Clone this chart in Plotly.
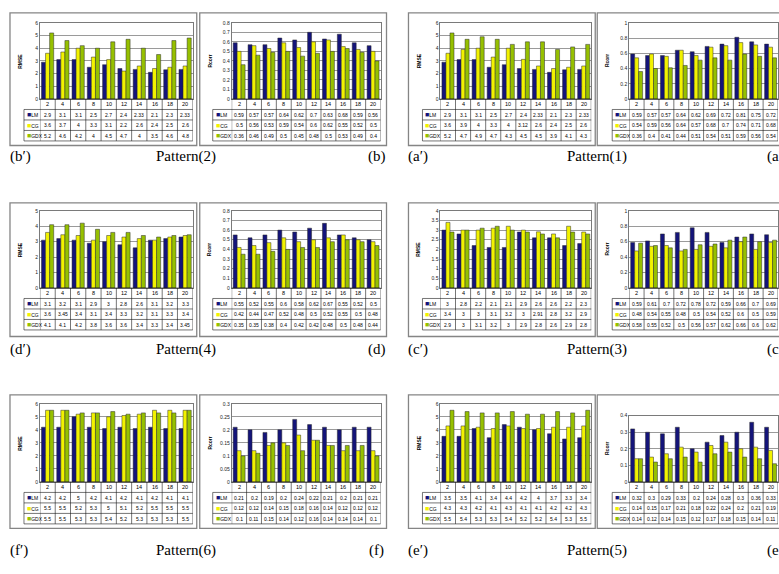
import plotly.graph_objects as go

W, H = 779, 574

categories = [2, 4, 6, 8, 10, 12, 14, 16, 18, 20]
series_names = ["LM", "CG", "GDX"]
series_colors = ["#14147a", "#f2f200", "#96c000"]

# Pattern(1)
p1_rmse_lm = [2.9, 3.1, 3.1, 2.5, 2.7, 2.4, 2.33, 2.1, 2.3, 2.33]
p1_rmse_cg = [3.6, 3.9, 4, 3.3, 4, 3.12, 2.6, 2.4, 2.5, 2.6]
p1_rmse_gdx = [5.2, 4.7, 4.9, 4.7, 4.3, 4.5, 4.5, 3.9, 4.1, 4.3]
p1_rcorr_lm = [0.59, 0.57, 0.57, 0.64, 0.62, 0.69, 0.72, 0.81, 0.75, 0.72]
p1_rcorr_cg = [0.54, 0.59, 0.56, 0.64, 0.57, 0.68, 0.7, 0.74, 0.71, 0.68]
p1_rcorr_gdx = [0.36, 0.4, 0.41, 0.44, 0.51, 0.54, 0.51, 0.59, 0.56, 0.54]

# Pattern(2)
p2_rmse_lm = [2.9, 3.1, 3.1, 2.5, 2.7, 2.4, 2.33, 2.1, 2.3, 2.33]
p2_rmse_cg = [3.6, 3.7, 4, 3.3, 3.1, 2.2, 2.6, 2.4, 2.5, 2.6]
p2_rmse_gdx = [5.2, 4.6, 4.2, 4, 4.5, 4.7, 4, 3.5, 4.6, 4.8]
p2_rcorr_lm = [0.59, 0.57, 0.57, 0.64, 0.62, 0.7, 0.63, 0.68, 0.59, 0.56]
p2_rcorr_cg = [0.5, 0.56, 0.53, 0.59, 0.54, 0.6, 0.62, 0.55, 0.52, 0.5]
p2_rcorr_gdx = [0.36, 0.46, 0.49, 0.5, 0.45, 0.48, 0.5, 0.53, 0.49, 0.4]

# Pattern(3)
p3_rmse_lm = [3, 2.8, 2.2, 2.1, 2.1, 2.9, 2.6, 2.6, 2.2, 2.3]
p3_rmse_cg = [3.4, 3, 3, 3.1, 3.2, 3, 2.91, 2.8, 3.2, 2.9]
p3_rmse_gdx = [2.9, 3, 3.1, 3.2, 3, 2.9, 2.8, 2.6, 2.9, 2.8]
p3_rcorr_lm = [0.59, 0.61, 0.7, 0.72, 0.78, 0.72, 0.59, 0.66, 0.7, 0.69]
p3_rcorr_cg = [0.48, 0.54, 0.55, 0.48, 0.5, 0.54, 0.52, 0.6, 0.5, 0.59]
p3_rcorr_gdx = [0.58, 0.55, 0.52, 0.5, 0.56, 0.57, 0.62, 0.66, 0.6, 0.62]

# Pattern(4)
p4_rmse_lm = [3.1, 3.2, 3.1, 2.9, 3, 2.8, 2.6, 3.1, 3.2, 3.3]
p4_rmse_cg = [3.6, 3.45, 3.4, 3.1, 3.4, 3.3, 3.2, 3.1, 3.3, 3.4]
p4_rmse_gdx = [4.1, 4.1, 4.2, 3.8, 3.6, 3.6, 3.4, 3.3, 3.4, 3.45]
p4_rcorr_lm = [0.55, 0.52, 0.55, 0.6, 0.58, 0.62, 0.67, 0.55, 0.52, 0.5]
p4_rcorr_cg = [0.42, 0.44, 0.47, 0.52, 0.48, 0.5, 0.52, 0.55, 0.5, 0.48]
p4_rcorr_gdx = [0.35, 0.35, 0.38, 0.4, 0.42, 0.42, 0.48, 0.5, 0.48, 0.44]

# Pattern(5)
p5_rmse_lm = [3.5, 3.5, 4.1, 3.4, 4.4, 4.2, 4, 3.7, 3.3, 3.4]
p5_rmse_cg = [4.3, 4.3, 4.2, 4.1, 4.3, 4.1, 4.1, 4.2, 4.2, 4.3]
p5_rmse_gdx = [5.5, 5.4, 5.3, 5.3, 5.4, 5.2, 5.2, 5.4, 5.3, 5.5]
p5_rcorr_lm = [0.32, 0.3, 0.29, 0.33, 0.2, 0.24, 0.28, 0.3, 0.36, 0.33]
p5_rcorr_cg = [0.14, 0.15, 0.17, 0.21, 0.18, 0.22, 0.24, 0.2, 0.21, 0.19]
p5_rcorr_gdx = [0.14, 0.12, 0.14, 0.15, 0.12, 0.17, 0.18, 0.15, 0.14, 0.11]

# Pattern(6)
p6_rmse_lm = [4.2, 4.2, 5, 4.2, 4.1, 4.2, 4.1, 4.2, 4.1, 4.1]
p6_rmse_cg = [5.5, 5.5, 5.2, 5.3, 5, 5.1, 5.2, 5.5, 5.5, 5.5]
p6_rmse_gdx = [5.5, 5.5, 5.3, 5.3, 5.4, 5.2, 5.3, 5.3, 5.3, 5.5]
p6_rcorr_lm = [0.21, 0.2, 0.19, 0.2, 0.24, 0.22, 0.21, 0.2, 0.21, 0.21]
p6_rcorr_cg = [0.12, 0.12, 0.14, 0.15, 0.18, 0.16, 0.14, 0.12, 0.12, 0.12]
p6_rcorr_gdx = [0.1, 0.11, 0.15, 0.14, 0.12, 0.16, 0.14, 0.14, 0.14, 0.1]

# Column geometry in pixels: frame left/right, plot left/right, table left
COLS = {
    "A": dict(frame=(10, 197), plot=(40, 193), tleft=24),
    "B": dict(frame=(200, 387), plot=(232, 381), tleft=213),
    "C": dict(frame=(409, 596), plot=(441, 592), tleft=423),
    "D": dict(frame=(598, 792), plot=(630, 779), tleft=613),
}
# Row geometry in pixels: frame top/bottom, plot top, plot bottom (zero line)
ROWS = {
    1: dict(frame=(10, 144), top=20, zero=97),
    2: dict(frame=(202, 337), top=210, zero=288),
    3: dict(frame=(396, 531), top=405, zero=484),
}

panels = [
    dict(col="A", row=1, title="RMSE", rng=(0, 6), dtick=1,
         data=(p2_rmse_lm, p2_rmse_cg, p2_rmse_gdx)),
    dict(col="B", row=1, title="Rcorr", rng=(0, 0.8), dtick=0.1,
         data=(p2_rcorr_lm, p2_rcorr_cg, p2_rcorr_gdx)),
    dict(col="C", row=1, title="RMSE", rng=(0, 6), dtick=1,
         data=(p1_rmse_lm, p1_rmse_cg, p1_rmse_gdx)),
    dict(col="D", row=1, title="Rcorr", rng=(0, 1), dtick=0.2,
         data=(p1_rcorr_lm, p1_rcorr_cg, p1_rcorr_gdx)),
    dict(col="A", row=2, title="RMSE", rng=(0, 5), dtick=1,
         data=(p4_rmse_lm, p4_rmse_cg, p4_rmse_gdx)),
    dict(col="B", row=2, title="Rcorr", rng=(0, 0.8), dtick=0.1,
         data=(p4_rcorr_lm, p4_rcorr_cg, p4_rcorr_gdx)),
    dict(col="C", row=2, title="RMSE", rng=(0, 4), dtick=0.5,
         data=(p3_rmse_lm, p3_rmse_cg, p3_rmse_gdx)),
    dict(col="D", row=2, title="Rcorr", rng=(0, 1), dtick=0.2,
         data=(p3_rcorr_lm, p3_rcorr_cg, p3_rcorr_gdx)),
    dict(col="A", row=3, title="RMSE", rng=(0, 6), dtick=1,
         data=(p6_rmse_lm, p6_rmse_cg, p6_rmse_gdx)),
    dict(col="B", row=3, title="Rcorr", rng=(0, 0.3), dtick=0.05,
         data=(p6_rcorr_lm, p6_rcorr_cg, p6_rcorr_gdx)),
    dict(col="C", row=3, title="RMSE", rng=(0, 6), dtick=1,
         data=(p5_rmse_lm, p5_rmse_cg, p5_rmse_gdx)),
    dict(col="D", row=3, title="Rcorr", rng=(0, 0.4), dtick=0.1, top=417,
         data=(p5_rcorr_lm, p5_rcorr_cg, p5_rcorr_gdx)),
]

captions = [
    (1, "(b′)", "(b)", "Pattern(2)", "(a′)", "(a)", "Pattern(1)"),
    (2, "(d′)", "(d)", "Pattern(4)", "(c′)", "(c)", "Pattern(3)"),
    (3, "(f′)", "(f)", "Pattern(6)", "(e′)", "(e)", "Pattern(5)"),
]
caption_y = {1: 155, 2: 350, 3: 553}


def px(x):
    return min(max(x / W, 0.0), 1.0)


def py(y):
    return min(max(1.0 - y / H, 0.0), 1.0)


SANS = "Liberation Sans, Arial, sans-serif"
SERIF = "Liberation Serif, Times New Roman, serif"
ROW_H = 10.6
GRID = "#1a1a1a"

# categories are evenly spaced, so a linear axis holds one slot per category
step = categories[1] - categories[0]
x_lo = categories[0] - step / 2
x_hi = categories[-1] + step / 2
edges = [v - step / 2 for v in categories] + [x_hi]

fig = go.Figure()
shapes = []
annotations = []
layout = dict(
    width=W, height=H, margin=dict(l=0, r=0, t=0, b=0),
    paper_bgcolor="white", plot_bgcolor="white",
    showlegend=False, barmode="group", bargap=0.2, bargroupgap=0.0,
    font=dict(family=SANS, size=6, color="black"),
)

for i, p in enumerate(panels):
    n = i + 1
    c = COLS[p["col"]]
    r = ROWS[p["row"]]
    top = p.get("top", r["top"])
    zero = r["zero"]
    xa = "x" if n == 1 else f"x{n}"
    ya = "y" if n == 1 else f"y{n}"
    xk = "xaxis" if n == 1 else f"xaxis{n}"
    yk = "yaxis" if n == 1 else f"yaxis{n}"

    # panel frame
    shapes.append(dict(
        type="rect", xref="paper", yref="paper",
        x0=c["frame"][0] / W, x1=c["frame"][1] / W,
        y0=1 - r["frame"][1] / H, y1=1 - r["frame"][0] / H,
        line=dict(color="#858585", width=1.3), fillcolor="rgba(0,0,0,0)",
        layer="below",
    ))

    for name, vals, col in zip(series_names, p["data"], series_colors):
        fig.add_trace(go.Bar(
            x=categories, y=vals, name=name, xaxis=xa, yaxis=ya,
            marker=dict(color=col, line=dict(color="#2b2b2b", width=0.5)),
            hoverinfo="x+y+name",
        ))

    layout[xk] = dict(
        domain=[px(c["plot"][0]), px(c["plot"][1])], anchor=ya,
        range=[x_lo, x_hi], showticklabels=False,
        ticks="", showgrid=False, showline=True, mirror=True,
        linecolor="#7a7a7a", linewidth=0.8, zeroline=False, fixedrange=True,
    )
    layout[yk] = dict(
        domain=[py(zero), py(top)], anchor=xa,
        range=list(p["rng"]), dtick=p["dtick"], tick0=0,
        showgrid=True, gridcolor="#9a9a9a", gridwidth=0.6,
        showline=True, mirror=True, linecolor="#7a7a7a", linewidth=0.8,
        zeroline=False, ticks="", ticklen=0,
        tickfont=dict(family=SANS, size=5, color="#222222"),
        fixedrange=True,
    )

    # axis title
    annotations.append(dict(
        xref="paper", yref="paper",
        x=(c["frame"][0] + 10) / W, y=1 - (top + zero) / 2 / H,
        text="<b>%s</b>" % p["title"], textangle=-90, showarrow=False,
        font=dict(family=SANS, size=5, color="black"),
        xanchor="center", yanchor="middle",
    ))

    # ---- data table under the bars ----
    right = min(c["plot"][1], W)
    t_bottom = zero + 4 * ROW_H
    # horizontal rules
    for k in range(5):
        yline = zero + k * ROW_H
        x0 = c["plot"][0] if k == 0 else c["tleft"]
        shapes.append(dict(
            type="line", xref="paper", yref="paper",
            x0=x0 / W, x1=right / W, y0=1 - yline / H, y1=1 - yline / H,
            line=dict(color=GRID, width=0.6),
        ))
    # vertical rules: table left edge, then category boundaries
    shapes.append(dict(
        type="line", xref="paper", yref="paper",
        x0=c["tleft"] / W, x1=c["tleft"] / W,
        y0=1 - (zero + ROW_H) / H, y1=1 - t_bottom / H,
        line=dict(color=GRID, width=0.6),
    ))
    for e in edges:
        shapes.append(dict(
            type="line", xref=xa, yref="paper",
            x0=e, x1=e, y0=1 - zero / H, y1=1 - t_bottom / H,
            line=dict(color=GRID, width=0.6),
        ))
    # header row: category labels
    for cat in categories:
        annotations.append(dict(
            xref=xa, yref="paper", x=cat, y=1 - (zero + 0.5 * ROW_H) / H,
            text=str(cat), showarrow=False, xanchor="center", yanchor="middle",
            font=dict(family=SANS, size=5.5, color="black"),
        ))
    # series rows: key + values
    for k, (name, col) in enumerate(zip(series_names, series_colors)):
        yc = 1 - (zero + (k + 1.5) * ROW_H) / H
        annotations.append(dict(
            xref="paper", yref="paper", x=(c["tleft"] + 1) / W, y=yc,
            text="<span style='color:%s;font-size:7px'>■</span>%s" % (col, name),
            showarrow=False, xanchor="left", yanchor="middle",
            font=dict(family=SANS, size=5, color="black"),
        ))
        for cat, v in zip(categories, p["data"][k]):
            annotations.append(dict(
                xref=xa, yref="paper", x=cat, y=yc, text=str(v),
                showarrow=False, xanchor="center", yanchor="middle",
                font=dict(family=SANS, size=5, color="black"),
            ))

# captions below each row of panels
for row, lpre, lpost, lmid, rpre, rpost, rmid in captions:
    yc = 1 - caption_y[row] / H
    for text, x, anchor in [
        (lpre, 8, "left"), (lmid, 186, "center"), (lpost, 377, "center"),
        (rpre, 407, "left"), (rmid, 598, "center"), (rpost, 766, "left"),
    ]:
        annotations.append(dict(
            xref="paper", yref="paper", x=x / W, y=yc, text=text,
            showarrow=False, xanchor=anchor, yanchor="middle",
            font=dict(family=SERIF, size=15, color="black"),
        ))

layout["shapes"] = shapes
layout["annotations"] = annotations
fig.update_layout(**layout)
fig.write_html("out.html")
